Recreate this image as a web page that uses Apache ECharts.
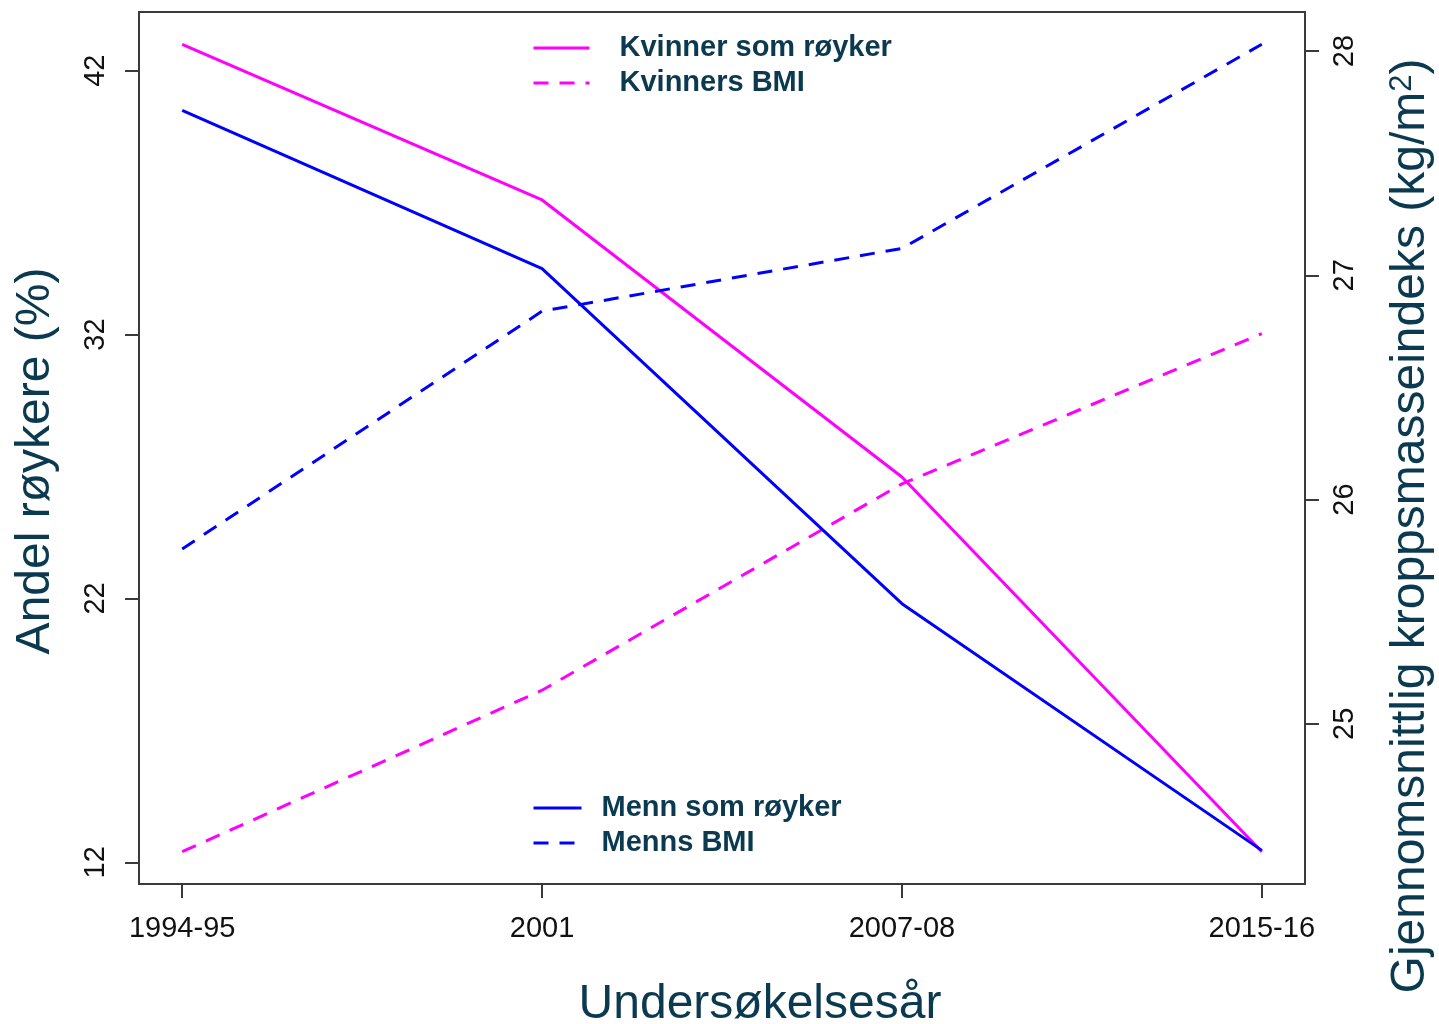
<!DOCTYPE html>
<html>
<head>
<meta charset="utf-8">
<script src="https://cdn.jsdelivr.net/npm/echarts@6/dist/echarts.min.js"></script>
<style>
html,body{margin:0;padding:0;background:#fff;}
#chart{width:1439px;height:1024px;}
</style>
</head>
<body>
<div id="chart"></div>
<script>
// ---- data ----
var categories = ['1994-95', '2001', '2007-08', '2015-16'];
var womenSmoking = [43.0, 37.1, 26.6, 12.4];
var menSmoking = [40.5, 34.5, 21.8, 12.45];
var womenBMI = [24.43, 25.15, 26.07, 26.74];
var menBMI = [25.78, 26.84, 27.12, 28.03];
var leftTicks = [12, 22, 32, 42];
var rightTicks = [25, 26, 27, 28];
var xTicks = [0, 1, 2, 3];

var FONT = '"Liberation Sans", Arial, sans-serif';
var TITLE_COLOR = '#0b3a50';
var AXIS_COLOR = '#3a3a3a';

function pairs(vals) { return vals.map(function (v, i) { return [i, v]; }); }
function rng(arrs) {
  var all = [].concat.apply([], arrs);
  var mn = Math.min.apply(null, all), mx = Math.max.apply(null, all);
  var e = 0.04 * (mx - mn);
  return [mn - e, mx + e];
}
var leftRange = rng([womenSmoking, menSmoking]);
var rightRange = rng([womenBMI, menBMI]);
var xExt = 0.04 * (categories.length - 1);

var chart = echarts.init(document.getElementById('chart'), null, {renderer: 'canvas'});

var dash = [15, 11];
var LW = 3;

var option = {
  animation: false,
  backgroundColor: '#fff',
  grid: {
    left: 139, top: 12, right: 134, bottom: 140,
    show: true, borderColor: AXIS_COLOR, borderWidth: 2, backgroundColor: 'transparent'
  },
  xAxis: {
    type: 'value',
    min: -xExt, max: categories.length - 1 + xExt,
    splitLine: {show: false},
    axisLine: {show: true, onZero: false, lineStyle: {color: AXIS_COLOR, width: 2}},
    axisTick: {show: true, length: 14, customValues: xTicks, lineStyle: {color: AXIS_COLOR, width: 2}},
    axisLabel: {
      customValues: xTicks,
      formatter: function (v) { return categories[Math.round(v)]; },
      fontSize: 29, fontFamily: FONT, color: '#111', margin: 30
    }
  },
  yAxis: [
    {
      type: 'value', position: 'left',
      min: leftRange[0], max: leftRange[1],
      splitLine: {show: false},
      axisLine: {show: true, onZero: false, lineStyle: {color: AXIS_COLOR, width: 2}},
      axisTick: {show: true, length: 14, customValues: leftTicks, lineStyle: {color: AXIS_COLOR, width: 2}},
      axisLabel: {customValues: leftTicks, rotate: 90, fontSize: 29, fontFamily: FONT, color: '#111', margin: 29}
    },
    {
      type: 'value', position: 'right',
      min: rightRange[0], max: rightRange[1],
      splitLine: {show: false},
      axisLine: {show: true, onZero: false, lineStyle: {color: AXIS_COLOR, width: 2}},
      axisTick: {show: true, length: 14, customValues: rightTicks, lineStyle: {color: AXIS_COLOR, width: 2}},
      axisLabel: {customValues: rightTicks, rotate: 90, fontSize: 29, fontFamily: FONT, color: '#111', margin: 25}
    }
  ],
  legend: [
    {
      orient: 'vertical', left: 532, top: 33, padding: 0,
      data: ['Kvinner som røyker', 'Kvinners BMI'],
      itemWidth: 56, itemHeight: 14, itemGap: 5,
      itemStyle: {opacity: 0},
      lineStyle: {width: LW},
      textStyle: {fontSize: 29, fontWeight: 'bold', fontFamily: FONT, color: TITLE_COLOR, lineHeight: 30, padding: [0, 0, 0, 25]}
    },
    {
      orient: 'vertical', left: 532, top: 793, padding: 0,
      data: ['Menn som røyker', 'Menns BMI'],
      itemWidth: 48, itemHeight: 14, itemGap: 5,
      itemStyle: {opacity: 0},
      lineStyle: {width: LW},
      textStyle: {fontSize: 29, fontWeight: 'bold', fontFamily: FONT, color: TITLE_COLOR, lineHeight: 30, padding: [0, 0, 0, 15]}
    }
  ],
  series: [
    {
      name: 'Kvinner som røyker', type: 'line', yAxisIndex: 0, symbol: 'none',
      data: pairs(womenSmoking),
      lineStyle: {color: '#ff00ff', width: LW, type: 'solid'}, itemStyle: {color: '#ff00ff'}
    },
    {
      name: 'Kvinners BMI', type: 'line', yAxisIndex: 1, symbol: 'none',
      data: pairs(womenBMI),
      lineStyle: {color: '#ff00ff', width: LW, type: dash}, itemStyle: {color: '#ff00ff'}
    },
    {
      name: 'Menn som røyker', type: 'line', yAxisIndex: 0, symbol: 'none',
      data: pairs(menSmoking),
      lineStyle: {color: '#0000ff', width: LW, type: 'solid'}, itemStyle: {color: '#0000ff'}
    },
    {
      name: 'Menns BMI', type: 'line', yAxisIndex: 1, symbol: 'none',
      data: pairs(menBMI),
      lineStyle: {color: '#0000ff', width: LW, type: dash}, itemStyle: {color: '#0000ff'}
    }
  ],
  graphic: [
    {
      type: 'text', x: 36, y: 461, rotation: Math.PI / 2,
      style: {text: 'Andel røykere (%)', font: '48px ' + FONT, fill: TITLE_COLOR, align: 'center', verticalAlign: 'middle'}
    },
    {
      type: 'text', x: 760, y: 1005,
      style: {text: 'Undersøkelsesår', font: '48px ' + FONT, fill: TITLE_COLOR, align: 'center', verticalAlign: 'middle'}
    },
    {
      type: 'text', x: 1411, y: 526, rotation: Math.PI / 2,
      style: {
        text: 'Gjennomsnittlig kroppsmasseindeks (kg/m{sup|2})',
        font: '48px ' + FONT, fill: TITLE_COLOR, align: 'center', verticalAlign: 'middle',
        rich: {
          sup: {fontSize: 31, fontFamily: FONT, fill: TITLE_COLOR, verticalAlign: 'top', padding: [0, 0, 14, 0]}
        }
      }
    }
  ]
};
chart.setOption(option);
</script>
</body>
</html>
